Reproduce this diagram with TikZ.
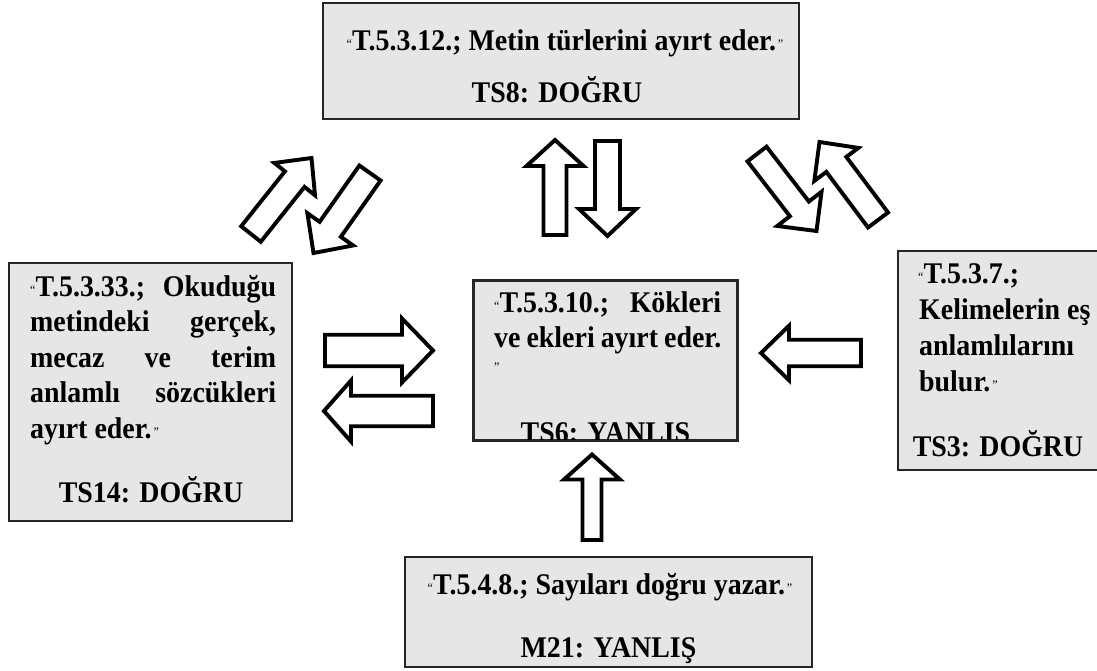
\documentclass[tikz,border=0pt]{standalone}
\usepackage{fontspec}
\setmainfont{Liberation Serif}[FakeStretch=0.93]
\usetikzlibrary{calc}
\definecolor{boxgray}{RGB}{230,230,230}
\newcommand\oq{\raisebox{2pt}{\fontsize{13}{13}\selectfont\mdseries “}}
\newcommand\cq{\raisebox{2pt}{\fontsize{13}{13}\selectfont\mdseries ”}}
% #1 tail, #2 tip, #3 shaft half width, #4 head half width, #5 head length
\newcommand\blockarrow[5]{%
  \coordinate (ba-h) at ($(#2)!#5!(#1)$);
  \draw[blockarr] ($(#1)!#3!90:(#2)$) -- ($(ba-h)!#3!90:(#2)$) -- ($(ba-h)!#4!90:(#2)$)
    -- (#2) -- ($(ba-h)!#4!-90:(#2)$) -- ($(ba-h)!#3!-90:(#2)$) -- ($(#1)!#3!-90:(#2)$) -- cycle;
}
\tikzset{
  box/.style={draw=black!85, line width=1.6pt, fill=boxgray, inner sep=0pt},
  txt/.style={inner sep=0pt, font=\bfseries\fontsize{30}{35}\selectfont},
  blockarr/.style={draw=black, fill=white, line width=3.9pt, line join=miter}
}
\begin{document}
\begin{tikzpicture}[x=1pt,y=-1pt]
\useasboundingbox (0,0) rectangle (1097,670);
% boxes
\node[box, minimum width=476pt, minimum height=116pt] (topbox) at (561,61) {};
\node[box, minimum width=283pt, minimum height=258pt] (leftbox) at (150.5,392) {};
\node[box, minimum width=263pt, minimum height=159pt] (cbox) at (605.5,360.5) {};
\node[box, minimum width=202pt, minimum height=219pt] (rightbox) at (999,360.5) {};
\node[box, minimum width=407pt, minimum height=110pt] (botbox) at (608.5,612) {};

% top box text
\node[txt, anchor=base] (t1) at (565,50) {\oq T.5.3.12.; Metin türlerini ayırt eder.\kern2pt\cq};
\node[txt, anchor=base] (t2) at (557,102) {TS8: DOĞRU};

% left box text
\node[txt, anchor=base west] (l1) at (30,296) {\makebox[246pt][s]{\oq T.5.3.33.; Okuduğu}};
\node[txt, anchor=base west] (l2) at (30,331.5) {\makebox[246pt][s]{metindeki gerçek,}};
\node[txt, anchor=base west] (l3) at (30,367) {\makebox[246pt][s]{mecaz ve terim}};
\node[txt, anchor=base west] (l4) at (30,402.5) {\makebox[246pt][s]{anlamlı sözcükleri}};
\node[txt, anchor=base west] (l5) at (30,438) {ayırt eder.\kern2pt\cq};
\node[txt, anchor=base] (l6) at (151,502) {TS14: DOĞRU};

% center box text
\node[txt, anchor=base west] (c1) at (494,312) {\makebox[227pt][s]{\oq T.5.3.10.; Kökleri}};
\node[txt, anchor=base west] (c2) at (494,347) {\makebox[227pt][s]{ve ekleri ayırt eder.}};
\node[txt, anchor=base west] (c3) at (494,373) {\cq};
\begin{scope}
  \clip (474.8,282) rectangle (736.2,439.2);
  \node[txt, anchor=base] (c4) at (605.5,442) {TS6: YANLIS};
\end{scope}
\draw[draw=black!85, line width=1.6pt] (cbox.north west) rectangle (cbox.south east);

% right box text
\node[txt, anchor=base west] (r1) at (918,283) {\oq T.5.3.7.;};
\node[txt, anchor=base west] (r2) at (919,319) {Kelimelerin eş};
\node[txt, anchor=base west] (r3) at (919,355) {anlamlılarını};
\node[txt, anchor=base west] (r4) at (919,391) {bulur.\kern2pt\cq};
\node[txt, anchor=base] (r5) at (998,456) {TS3: DOĞRU};

% bottom box text
\node[txt, anchor=base] (b1) at (610,594) {\oq T.5.4.8.; Sayıları doğru yazar.\kern2pt\cq};
\node[txt, anchor=base] (b2) at (608.5,657) {M21: YANLIŞ};

% arrow end points
\coordinate (a1s) at (555,235);   \coordinate (a1e) at (555,140);
\coordinate (a2s) at (607.5,141); \coordinate (a2e) at (607.5,236);
\coordinate (a3s) at (592,540);   \coordinate (a3e) at (592,454.5);
\coordinate (a4s) at (325,350.5); \coordinate (a4e) at (433,350.5);
\coordinate (a5s) at (433,411);   \coordinate (a5e) at (324,411);
\coordinate (a6s) at (861,353);   \coordinate (a6e) at (761,353);
\coordinate (a7s) at (251,234);   \coordinate (a7e) at (311.5,158);
\coordinate (a8s) at (370,173);   \coordinate (a8e) at (313.5,253);
\coordinate (a9s) at (757,154);   \coordinate (a9e) at (816.5,231);
\coordinate (a10s) at (878,220);  \coordinate (a10e) at (819.5,142);

\blockarrow{a1s}{a1e}{11.5pt}{28.5pt}{26pt}
\blockarrow{a2s}{a2e}{12.5pt}{28.5pt}{27pt}
\blockarrow{a3s}{a3e}{9.5pt}{28pt}{25pt}
\blockarrow{a4s}{a4e}{15.75pt}{32pt}{31pt}
\blockarrow{a5s}{a5e}{15.25pt}{30.5pt}{27pt}
\blockarrow{a6s}{a6e}{13.25pt}{27.25pt}{28pt}
\blockarrow{a7s}{a7e}{12.5pt}{26pt}{27pt}
\blockarrow{a8s}{a8e}{13pt}{28pt}{29pt}
\blockarrow{a9s}{a9e}{12pt}{28pt}{28pt}
\blockarrow{a10s}{a10e}{12.5pt}{27.5pt}{28pt}
\end{tikzpicture}
\end{document}
